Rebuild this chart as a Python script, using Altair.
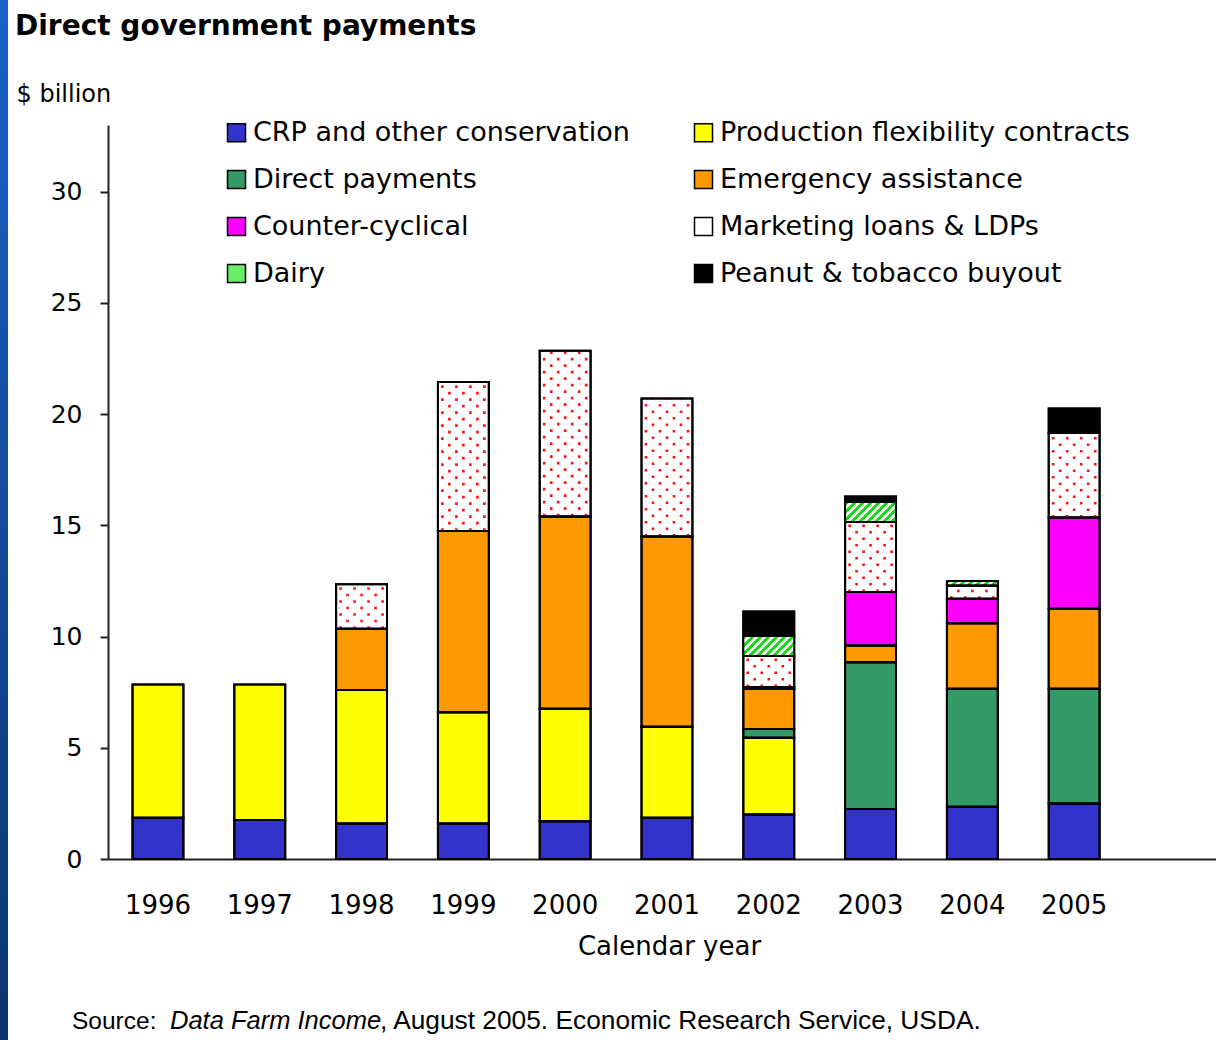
import altair as alt
import pandas as pd

# ---------------- data ----------------
years = ["1996", "1997", "1998", "1999", "2000", "2001", "2002", "2003", "2004", "2005"]
# stacking order (bottom to top)
categories = [
    "CRP and other conservation",
    "Production flexibility contracts",
    "Direct payments",
    "Emergency assistance",
    "Counter-cyclical",
    "Marketing loans & LDPs",
    "Dairy",
    "Peanut & tobacco buyout",
]
crp    = [1.85, 1.75, 1.60, 1.60, 1.70, 1.85, 2.00, 2.25, 2.35, 2.50]
pfc    = [6.00, 6.10, 6.00, 5.00, 5.05, 4.10, 3.45, 0.00, 0.00, 0.00]
direct = [0.00, 0.00, 0.00, 0.00, 0.00, 0.00, 0.40, 6.60, 5.30, 5.15]
emerg  = [0.00, 0.00, 2.75, 8.15, 8.65, 8.55, 1.80, 0.75, 2.95, 3.60]
ccyc   = [0.00, 0.00, 0.00, 0.00, 0.00, 0.00, 0.08, 2.40, 1.10, 4.10]
mloans = [0.00, 0.00, 2.00, 6.70, 7.45, 6.20, 1.40, 3.15, 0.60, 3.80]
dairy  = [0.00, 0.00, 0.00, 0.00, 0.00, 0.00, 0.90, 0.90, 0.20, 0.00]
peanut = [0.00, 0.00, 0.00, 0.00, 0.00, 0.00, 1.10, 0.25, 0.00, 1.10]
cat_colors = {
    "CRP and other conservation": "#3333cc",
    "Production flexibility contracts": "#ffff00",
    "Direct payments": "#339966",
    "Emergency assistance": "#ff9900",
    "Counter-cyclical": "#ff00ff",
    "Marketing loans & LDPs": "#ffffff",
    "Dairy": "#66ee66",
    "Peanut & tobacco buyout": "#000000",
}
# legend order (filled column by column, 2 columns)
legend_order = [
    "CRP and other conservation",
    "Direct payments",
    "Counter-cyclical",
    "Dairy",
    "Production flexibility contracts",
    "Emergency assistance",
    "Marketing loans & LDPs",
    "Peanut & tobacco buyout",
]

series = [crp, pfc, direct, emerg, ccyc, mloans, dairy, peanut]
rows = []
for i, yr in enumerate(years):
    base = 0.0
    for k, (cat, vals) in enumerate(zip(categories, series)):
        v = vals[i]
        if v > 0:
            rows.append({"year": yr, "category": cat, "value": v, "lo": base, "hi": base + v, "k": k})
        base += v
df = pd.DataFrame(rows)

# ---------------- layout ----------------
W, H = 1108, 734
YMAX = 33
P_IN, P_OUT, ALIGN = 0.5, 0.692, 0.174
step = W / (len(years) - P_IN + 2 * P_OUT)
bw = step * (1 - P_IN)
FONT = "DejaVu Sans"

xscale = alt.Scale(domain=years, paddingInner=P_IN, paddingOuter=P_OUT, align=ALIGN, round=False)
yscale = alt.Scale(domain=[0, YMAX], nice=False, zero=True)

x_enc = alt.X(
    "year:N",
    scale=xscale,
    axis=alt.Axis(
        title="Calendar year",
        labelAngle=0,
        labelFont=FONT,
        labelFontSize=26,
        labelColor="black",
        labelBaseline="alphabetic",
        labelPadding=54,
        ticks=False,
        tickSize=0,
        domainColor="#222222",
        domainWidth=2,
        titleFont=FONT,
        titleFontSize=26,
        titleFontWeight="normal",
        titleColor="black",
        titleX=561,
        titleY=95,
        titleAlign="center",
        titleBaseline="alphabetic",
        grid=False,
    ),
)
y_enc = alt.Y(
    "lo:Q",
    scale=yscale,
    axis=alt.Axis(
        title="$ billion",
        values=[0, 5, 10, 15, 20, 25, 30],
        titleAngle=0,
        titleAlign="left",
        titleBaseline="alphabetic",
        titleX=-92,
        titleY=-24,
        titleFont=FONT,
        titleFontSize=24,
        titleFontWeight="normal",
        titleColor="black",
        labelFont=FONT,
        labelFontSize=25,
        labelColor="black",
        labelPadding=18,
        tickSize=8,
        tickWidth=2,
        tickColor="#222222",
        domainColor="#222222",
        domainWidth=2,
        grid=False,
    ),
)

base = alt.Chart(df).mark_bar(stroke="black", strokeWidth=2).encode(
    x=x_enc,
    y=y_enc,
    y2="hi:Q",
    color=alt.Color(
        "category:N",
        scale=alt.Scale(domain=legend_order, range=[cat_colors[c] for c in legend_order]),
        legend=alt.Legend(
            title=None,
            orient="none",
            legendX=115,
            legendY=-6,
            columns=2,
            columnPadding=60,
            rowPadding=19,
            symbolType="square",
            symbolSize=324,
            symbolStrokeColor="black",
            symbolStrokeWidth=1.5,
            labelFont=FONT,
            labelFontSize=27,
            labelColor="black",
            labelOffset=3,
            labelLimit=600,
            padding=0,
        ),
    ),
)

layers = [base]

# Marketing loans: red dot texture (dashed vertical rules)
ml_df = df[df["category"] == "Marketing loans & LDPs"]
for j, off in enumerate([-21, -14, -7, 0, 7, 14, 21]):
    layers.append(
        alt.Chart(ml_df)
        .mark_rule(
            color="#ff1010",
            strokeWidth=2.6,
            strokeDash=[2.6, 10.4],
            strokeDashOffset=(6.5 if j % 2 else 0),
            xOffset=off,
        )
        .encode(x=x_enc, y=y_enc, y2="hi:Q")
    )

# Dairy: diagonal green hatching via hard-stop gradients
GREEN = "#11dd11"
PER = 8.0
dairy_df = df[df["category"] == "Dairy"]
for _, r in dairy_df.iterrows():
    h = r["value"] * H / YMAX
    span = bw + h
    stops = []
    kk = 0
    while kk * PER < span:
        a = kk * PER / span
        b = min((kk * PER + PER * 0.5) / span, 1.0)
        stops += [
            {"offset": a, "color": "white"},
            {"offset": a, "color": GREEN},
            {"offset": b, "color": GREEN},
            {"offset": b, "color": "white"},
        ]
        kk += 1
    c = span / (bw * bw + h * h)
    grad = {"gradient": "linear", "x1": 0, "y1": 0, "x2": c * bw, "y2": c * h, "stops": stops}
    layers.append(
        alt.Chart(pd.DataFrame([r])).mark_bar(fill=grad).encode(x=x_enc, y=y_enc, y2="hi:Q")
    )

# outlines on top
layers.append(
    alt.Chart(df).mark_bar(fillOpacity=0, stroke="black", strokeWidth=2).encode(x=x_enc, y=y_enc, y2="hi:Q")
)

# decorative left strip
strip_grad = {
    "gradient": "linear", "x1": 0, "y1": 0, "x2": 0, "y2": 1,
    "stops": [{"offset": 0, "color": "#1a62c8"}, {"offset": 1, "color": "#0b356f"}],
}
layers.append(
    alt.Chart(pd.DataFrame({"a": [0]})).mark_rect(fill=strip_grad).encode(
        x=alt.value(-108), x2=alt.value(-100), y=alt.value(-125), y2=alt.value(915)
    )
)

# texts
title_text = ["Direct government payments"]
source_parts = ["Source:", "Data Farm Income", ", August 2005. Economic Research Service, USDA."]
layers.append(
    alt.Chart(pd.DataFrame({"t": title_text})).mark_text(
        font=FONT, fontSize=28, fontWeight="bold", align="left", baseline="alphabetic", color="black"
    ).encode(text="t:N", x=alt.value(-93), y=alt.value(-90))
)
src_x = [-36, 62, 272]
src_size = [24.5, 25.5, 26.3]
src_style = ["normal", "italic", "normal"]
for part, sx, fs, st in zip(source_parts, src_x, src_size, src_style):
    layers.append(
        alt.Chart(pd.DataFrame({"t": [part]})).mark_text(
            font="Liberation Sans", fontSize=fs, fontStyle=st, align="left", baseline="alphabetic", color="black"
        ).encode(text="t:N", x=alt.value(sx), y=alt.value(904))
    )

chart = (
    alt.layer(*layers)
    .properties(
        width=W,
        height=H,
        autosize=alt.AutoSizeParams(type="none"),
        padding={"left": 108, "top": 125, "right": 0, "bottom": 181},
        background="white",
    )
    .configure_view(strokeWidth=0)
)

chart.save("out.html", embed_options={"renderer": "svg", "actions": False})
